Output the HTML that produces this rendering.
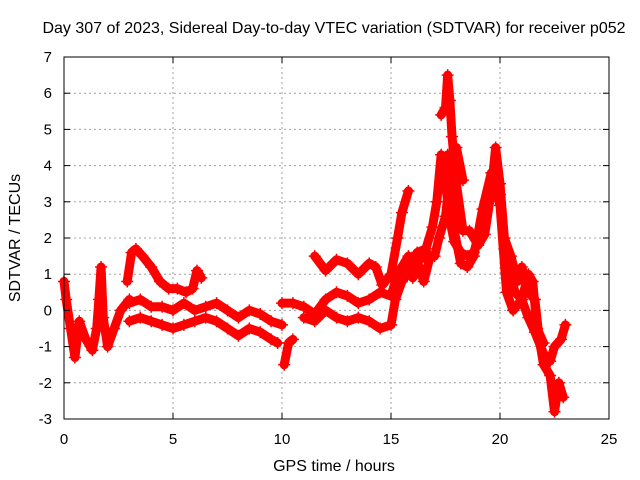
<!DOCTYPE html>
<html><head><meta charset="utf-8"><style>
body{margin:0;background:#fff}
svg{display:block;font-family:"Liberation Sans",sans-serif}
</style></head><body>
<svg id="chart" width="640" height="480">
<rect width="640" height="480" fill="#fff"/>
<text x="334" y="33" text-anchor="middle" font-size="16">Day 307 of 2023, Sidereal Day-to-day VTEC variation (SDTVAR) for receiver p052</text>
<text x="334" y="471" text-anchor="middle" font-size="16">GPS time / hours</text>
<text transform="translate(20,238) rotate(-90)" text-anchor="middle" font-size="16">SDTVAR / TECUs</text>
<g id="grid"></g><g id="series"></g><g id="axes"></g>
</svg>
<script>
const xTicks=[0,5,10,15,20,25];
const yTicks=[-3,-2,-1,0,1,2,3,4,5,6,7];
const t1=[0,0.1,0.3,0.5,0.7,1,1.3,1.5,1.6,1.7,1.8,2,2.3,2.6,3];
const v1=[0.8,0.3,-0.5,-1.3,-0.3,-0.8,-1.1,-0.5,0.3,1.2,-0.2,-1,-0.5,0,0.3];
const t2=[2.9,3.1,3.3,3.6,4,4.4,4.8,5.2,5.6,5.9,6.1,6.3];
const v2=[0.8,1.6,1.7,1.5,1.2,0.8,0.6,0.6,0.5,0.6,1.1,0.9];
const t3=[3,3.5,4,4.5,5,5.5,6,6.5,7,7.5,8,8.5,9,9.5,10];
const v3=[0.2,0.3,0.1,0.1,0,0.2,0,0.1,0.2,0,-0.2,0,-0.1,-0.3,-0.4];
const t4=[3,3.5,4,4.5,5,5.5,6,6.5,7,7.5,8,8.5,9,9.5,9.8];
const v4=[-0.3,-0.2,-0.3,-0.4,-0.5,-0.4,-0.3,-0.2,-0.3,-0.5,-0.7,-0.5,-0.6,-0.8,-0.9];
const t5=[10.1,10.3,10.5];
const v5=[-1.5,-0.9,-0.8];
const t6=[10,10.5,11,11.5,12,12.5,13,13.5,14,14.5,15,15.3,15.5,15.8,16,16.3,16.5,16.8];
const v6=[0.2,0.2,0.1,-0.1,0.3,0.5,0.4,0.2,0.3,0.5,0.4,1,1.2,1.5,0.9,1.2,0.8,1.5];
const t7=[11.5,12,12.5,13,13.5,14,14.3,14.6,15,15.3,15.5,15.8];
const v7=[1.5,1.1,1.4,1.3,1,1.3,1.2,0.7,1,2,2.7,3.3];
const t8=[11,11.5,12,12.5,13,13.5,14,14.5,15,15.2,15.5,16,16.5,17,17.2,17.5,17.8,18,18.3];
const v8=[-0.2,-0.3,0,-0.2,-0.3,-0.2,-0.3,-0.5,-0.4,0.3,0.8,1.2,1.5,1.5,2,2.6,4.2,4.5,3.6];
const t9=[15.8,16.2,16.6,16.9,17.1,17.3,17.5,17.7,17.9,18.2,18.5,18.8,19,19.3,19.6,19.8,20,20.2,20.4,20.7,21,21.3,21.6,22,22.3,22.5,22.8,23];
const v9=[1.1,1.6,1.7,2.3,3,4.3,3.5,2.5,1.9,1.6,1.5,1.6,2,2.7,3.6,3.8,3.2,1.7,1,0.5,0.3,-0.2,-0.6,-1.2,-1.4,-1,-0.8,-0.4];
const t10=[17.3,17.5,17.6,17.7,17.8,18,18.3,18.6,19,19.3,19.6,19.8,20,20.2,20.5,20.8,21,21.3,21.6,21.8,22,22.3,22.5,22.7,22.9];
const v10=[5.4,5.6,6.5,5.8,4.8,3.5,2.2,2.2,1.8,2.1,3.3,4.5,3.5,2,1.5,0.8,1.2,0.5,0.3,-0.8,-1.5,-1.8,-2.8,-2,-2.4];
const t11=[17.6,17.9,18.2,18.5,18.8,19.2,19.6,20,20.3,20.6,21,21.3,21.5,21.7,22];
const v11=[4.3,2.2,1.3,1.2,1.5,2.8,3.8,2.9,0.5,0,0.3,1,0.8,-0.5,-0.9];
const seriesT=[t1,t2,t3,t4,t5,t6,t7,t8,t9,t10,t11];
const seriesV=[v1,v2,v3,v4,v5,v6,v7,v8,v9,v10,v11];

const L=64,R=609,T=57,B=419;
const xS=t=>L+(t-0)/25*(R-L);
const yS=v=>B-(v+3)/10*(B-T);
const NS="http://www.w3.org/2000/svg";
function mk(tag,attrs,parent){const e=document.createElementNS(NS,tag);for(const k in attrs)e.setAttribute(k,attrs[k]);parent.appendChild(e);return e;}
const grid=document.getElementById('grid'),axes=document.getElementById('axes'),ser=document.getElementById('series');
xTicks.forEach(t=>{
  const x=xS(t);
  if(t>0&&t<25){const g=mk('line',{x1:x,x2:x,y1:T,y2:B,stroke:'#a0a0a0','stroke-dasharray':'2,3'},grid);
  
  }
  mk('line',{x1:x,x2:x,y1:B,y2:B-6,stroke:'#000'},axes);
  mk('line',{x1:x,x2:x,y1:T,y2:T+6,stroke:'#000'},axes);
  const tx=mk('text',{x:x,y:B+25,'text-anchor':'middle','font-size':15},axes);
  tx.textContent=t;
  
  
});
yTicks.forEach(v=>{
  const y=yS(v);
  if(v>-3&&v<7){const g=mk('line',{x1:L,x2:R,y1:y,y2:y,stroke:'#a0a0a0','stroke-dasharray':'2,3'},grid);
  
  }
  mk('line',{x1:L,x2:L+6,y1:y,y2:y,stroke:'#000'},axes);
  mk('line',{x1:R,x2:R-6,y1:y,y2:y,stroke:'#000'},axes);
  const tx=mk('text',{x:L-12,y:y+5,'text-anchor':'end','font-size':15},axes);
  tx.textContent=v;
  
  
});
const fr=mk('rect',{x:L,y:T,width:R-L,height:B-T,fill:'none',stroke:'#000'},axes);


seriesT.forEach((ts,i)=>{
  const vs=seriesV[i];
  const pts=ts.map((t,j)=>xS(t)+','+yS(vs[j])).join(' ');
  const pl=mk('polyline',{points:pts,fill:'none',stroke:'#f00','stroke-width':9,'stroke-linejoin':'round','stroke-linecap':'round'},ser);
  
  
  ts.forEach((t,j)=>{
    const x=xS(t),y=yS(vs[j]);
    const p=mk('path',{d:`M${x-6},${y}H${x+6}M${x},${y-6}V${y+6}`,stroke:'#f00','stroke-width':1.5},ser);
    
    
  });
});
</script>
</body></html>
